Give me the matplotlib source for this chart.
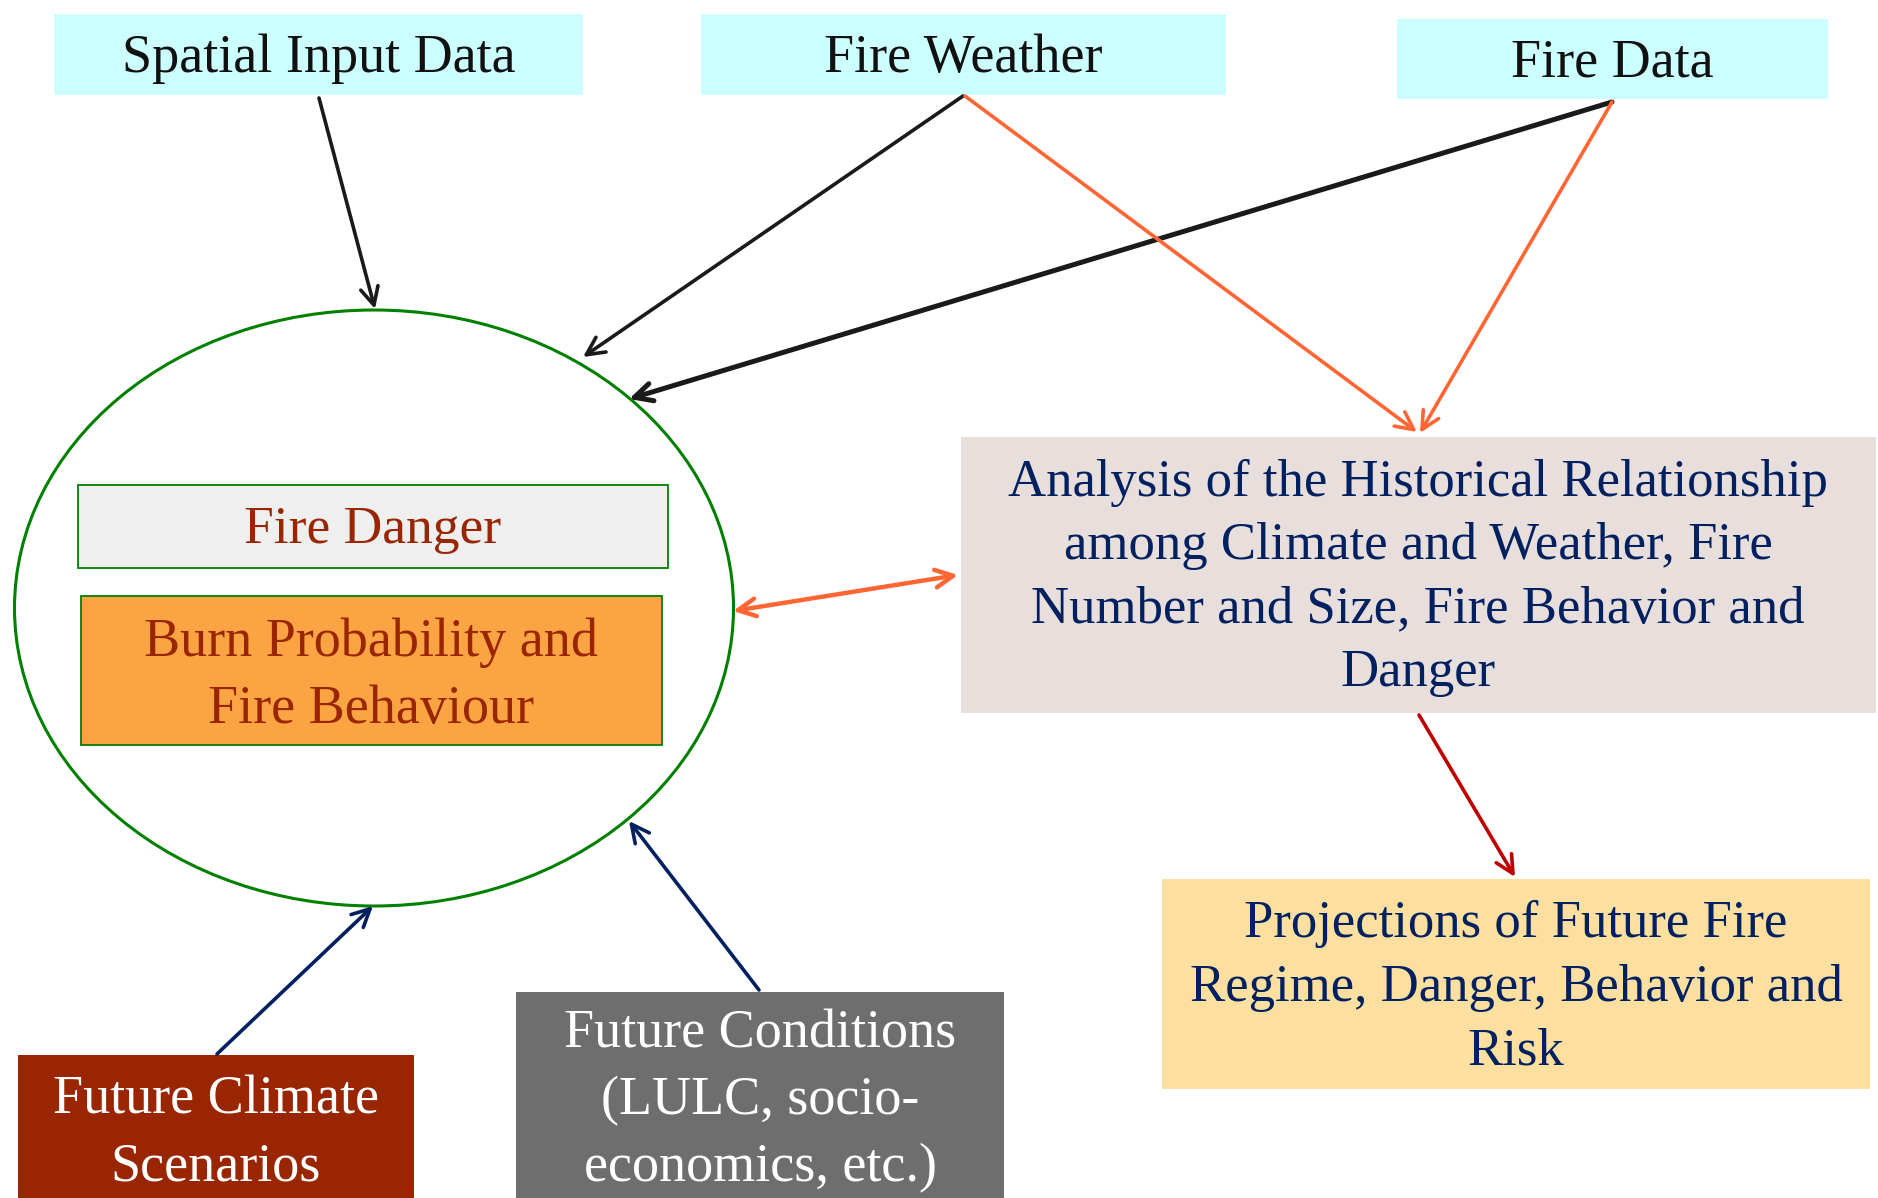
import matplotlib.pyplot as plt
from matplotlib.patches import Rectangle, Ellipse

# box labels
input_labels = ["Spatial Input Data", "Fire Weather", "Fire Data"]
inner_labels = ["Fire Danger", "Burn Probability and\nFire Behaviour"]
analysis_label = ("Analysis of the Historical Relationship\n"
                  "among Climate and Weather, Fire\n"
                  "Number and Size, Fire Behavior and\n"
                  "Danger")
projection_label = "Projections of Future Fire\nRegime, Danger, Behavior and\nRisk"
future_labels = ["Future Climate\nScenarios", "Future Conditions\n(LULC, socio-\neconomics, etc.)"]

W, H = 1878, 1198
fig = plt.figure(figsize=(W / 100, H / 100), dpi=100)
ax = fig.add_axes([0, 0, 1, 1])
ax.set_xlim(0, W)
ax.set_ylim(H, 0)
ax.axis("off")

font = "Liberation Serif"
navy = "#002060"
rust = "#992600"
green = "#008000"
orange = "#ff6633"


def box(x0, y0, x1, y1, fc, ec="none", lw=0):
    ax.add_patch(Rectangle((x0, y0), x1 - x0, y1 - y0, facecolor=fc,
                           edgecolor=ec, linewidth=lw, zorder=1))


def label(x, y, s, color, size, ls=1.42):
    ax.text(x, y, s, ha="center", va="center", color=color, fontsize=size,
            family=font, linespacing=ls, zorder=3)


def arrow(p0, p1, color, lw=2.6, style="->"):
    ax.annotate("", xy=p1, xytext=p0,
                arrowprops=dict(arrowstyle=style, color=color, lw=lw,
                                mutation_scale=32, shrinkA=0, shrinkB=0),
                zorder=2)


# top input boxes
tops = [(54, 14, 583, 95), (701, 14, 1226, 95), (1397, 19, 1828, 99)]
for (x0, y0, x1, y1), s in zip(tops, input_labels):
    box(x0, y0, x1, y1, "#ccffff")
    label((x0 + x1) / 2, (y0 + y1) / 2 + 4, s, "#111111", 39)

# big ellipse with inner boxes
ax.add_patch(Ellipse((374, 608), 719, 596, facecolor="none", edgecolor=green,
                     linewidth=2.2, zorder=2))
box(78, 485, 668, 568, "#efefef", green, 1.3)
label(373, 530, inner_labels[0], rust, 38.5)
box(81, 596, 662, 745, "#fba444", green, 1.3)
label(371, 676, inner_labels[1], rust, 39)

# analysis and projections boxes
box(961, 437, 1876, 713, "#e8dfdd")
label(1418, 578, analysis_label, navy, 38)
box(1162, 879, 1870, 1089, "#fde0a0")
label(1516, 988, projection_label, navy, 38)

# future boxes
box(18, 1055, 414, 1210, "#992600")
label(216, 1134, future_labels[0], "white", 39)
box(516, 992, 1004, 1210, "#6e6e6e")
label(760, 1101, future_labels[1], "white", 39)

# arrows
arrow((319, 98), (375, 309), "#1a1a1a")
arrow((963, 96), (583, 357), "#1a1a1a")
arrow((1612, 102), (629, 399), "#1a1a1a", lw=3.6)
arrow((965, 96), (1417, 432), orange)
arrow((1612, 102), (1420, 433), orange)
arrow((733, 611), (958, 575), orange, lw=3.2, style="<->")
arrow((1419, 715), (1515, 877), "#c00000")
arrow((217, 1054), (373, 906), navy)
arrow((759, 990), (629, 821), navy)

fig.savefig("out.png", dpi=100)
